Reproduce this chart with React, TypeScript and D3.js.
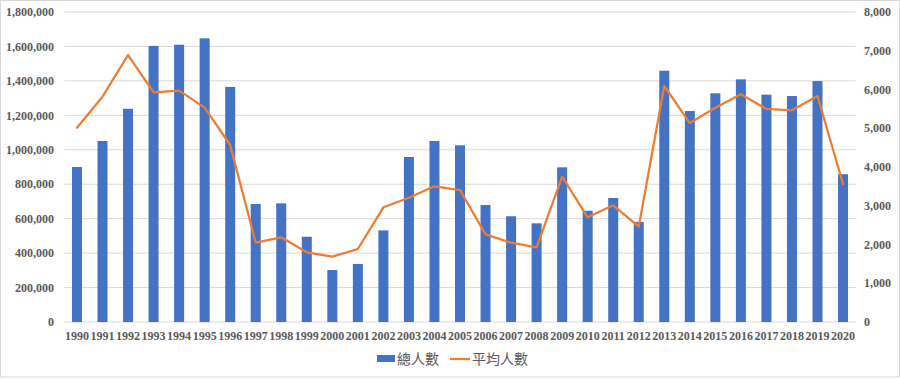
import React from "react";
import * as d3 from "d3";

const years = [
  "1990","1991","1992","1993","1994","1995","1996","1997","1998","1999",
  "2000","2001","2002","2003","2004","2005","2006","2007","2008","2009",
  "2010","2011","2012","2013","2014","2015","2016","2017","2018","2019","2020",
];
const totalPeople = [
  900000, 1051000, 1238000, 1603000, 1610000, 1647000, 1365000, 685000, 689000, 495000,
  302000, 337000, 532000, 958000, 1051000, 1026000, 679000, 614000, 573000, 898000,
  646000, 720000, 581000, 1459000, 1225000, 1328000, 1409000, 1320000, 1312000, 1399000, 858000,
];
const avgPeople = [
  5014, 5815, 6890, 5927, 5970, 5531, 4568, 2046, 2185, 1798,
  1686, 1884, 2960, 3208, 3501, 3406, 2262, 2046, 1927, 3751,
  2701, 3011, 2460, 6090, 5135, 5531, 5875, 5497, 5462, 5832, 3561,
];
const leftTicks = [0, 200000, 400000, 600000, 800000, 1000000, 1200000, 1400000, 1600000, 1800000];
const rightTicks = [0, 1000, 2000, 3000, 4000, 5000, 6000, 7000, 8000];
const seriesNames = ["總人數", "平均人數"];

const W = 900;
const H = 379;
const M = { left: 64.2, right: 855.8, top: 12, bottom: 322 };

export default function App() {
  const x = d3.scaleBand<string>().domain(years).range([M.left, M.right]).paddingInner(0.6).paddingOuter(0.3);
  const xc = d3.scaleBand<string>().domain(years).range([M.left, M.right]).padding(0);
  const yL = d3.scaleLinear().domain([0, 1800000]).range([M.bottom, M.top]);
  const yR = d3.scaleLinear().domain([0, 8000]).range([M.bottom, M.top]);
  const fmt = d3.format(",");
  const line = d3
    .line<number>()
    .x((_, i) => (xc(years[i]) as number) + xc.bandwidth() / 2)
    .y((d) => yR(d));

  const bw = 10;
  const tickFont = "'Liberation Serif', 'Times New Roman', serif";
  const cjkFont = "'Noto Sans CJK TC', 'Noto Sans', sans-serif";

  return (
    <svg
      width={W}
      height={H}
      style={{ position: "fixed", left: 0, top: 0, background: "#fff" }}
    >
      <rect x={0.5} y={0.5} width={W - 1} height={H - 2.5} fill="#fff" stroke="#d9d9d9" />
      {leftTicks.map((t) => (
        <line key={"g" + t} x1={M.left} x2={M.right} y1={yL(t)} y2={yL(t)} stroke="#d9d9d9" strokeWidth={1} />
      ))}
      {years.map((yr, i) => {
        const cx = (xc(yr) as number) + xc.bandwidth() / 2;
        return (
          <rect
            key={"b" + yr}
            x={cx - bw / 2}
            y={yL(totalPeople[i])}
            width={bw}
            height={yL(0) - yL(totalPeople[i])}
            fill="#4472C4"
          />
        );
      })}
      <path d={line(avgPeople) || ""} fill="none" stroke="#ED7D31" strokeWidth={2.25} strokeLinejoin="round" strokeLinecap="round" />
      {leftTicks.map((t) => (
        <text key={"l" + t} x={54} y={yL(t)} dy="0.35em" textAnchor="end" fontFamily={tickFont} fontWeight="bold" fontSize={12} fill="#595959">
          {fmt(t)}
        </text>
      ))}
      {rightTicks.map((t) => (
        <text key={"r" + t} x={864} y={yR(t)} dy="0.35em" textAnchor="start" fontFamily={tickFont} fontWeight="bold" fontSize={12} fill="#595959">
          {fmt(t)}
        </text>
      ))}
      {years.map((yr) => (
        <text key={"x" + yr} x={(xc(yr) as number) + xc.bandwidth() / 2} y={336} dy="0.35em" textAnchor="middle" fontFamily={tickFont} fontWeight="bold" fontSize={12} fill="#595959">
          {yr}
        </text>
      ))}
      <g>
        <rect x={377} y={355} width={18} height={7} fill="#4472C4" />
        <text x={397} y={359} dy="0.35em" fontFamily={cjkFont} fontSize={14} fill="#595959">
          {seriesNames[0]}
        </text>
        <line x1={450} x2={470} y1={359} y2={359} stroke="#ED7D31" strokeWidth={2.25} />
        <text x={472} y={359} dy="0.35em" fontFamily={cjkFont} fontSize={14} fill="#595959">
          {seriesNames[1]}
        </text>
      </g>
    </svg>
  );
}
